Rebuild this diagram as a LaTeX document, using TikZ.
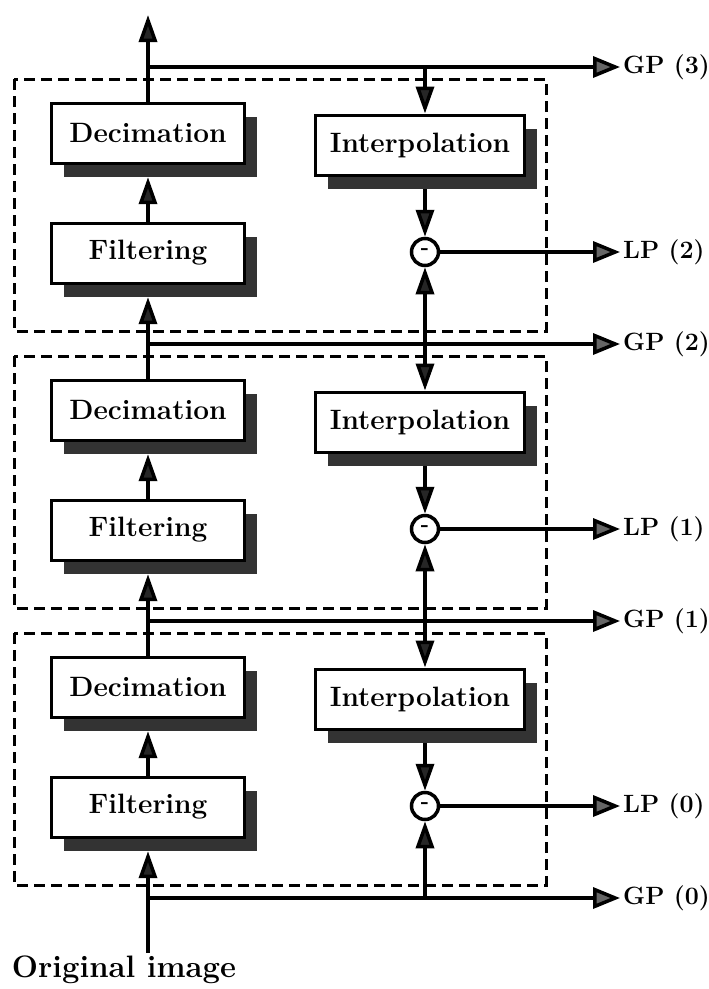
\documentclass[tikz,border=0pt]{standalone}
\usepackage{fontspec}
\usetikzlibrary{arrows.meta,positioning,calc}

\tikzset{
  procbox/.style={draw, line width=3pt, fill=white, minimum height=60pt, inner sep=0pt,
    font=\fontsize{28}{32}\selectfont\bfseries},
  shadowbox/.style={fill=black!80, minimum height=60pt, inner sep=0pt},
  sumnode/.style={circle, draw, line width=3.5pt, fill=white, minimum size=27pt, inner sep=0pt,
    font=\fontsize{22}{22}\selectfont\bfseries},
  outlabel/.style={anchor=west, inner sep=3pt, font=\fontsize{25}{28}\selectfont\bfseries},
  upflow/.style={line width=3.5pt, -{Triangle[length=27pt,width=18pt,fill=black!85]}},
  outflow/.style={line width=3.5pt, -{Triangle[length=27pt,width=21pt,fill=black!60]}},
  stagebox/.style={line width=3pt, dash pattern=on 11pt off 6pt}
}

\begin{document}
\begin{tikzpicture}[x=1pt,y=-1pt]
    \useasboundingbox (0,0) rectangle (709,989);
    % Dashed stage frames
    \draw[stagebox] (14,79) rectangle (546,331);
    \draw[stagebox] (14,356) rectangle (546,608);
    \draw[stagebox] (14,633) rectangle (546,885);
    % Shadows
    \node[shadowbox, minimum width=193pt] (decAsh) at (160,147) {};
    \node[shadowbox, minimum width=193pt] (filtAsh) at (160,267) {};
    \node[shadowbox, minimum width=209pt] (interpAsh) at (432,159) {};
    \node[shadowbox, minimum width=193pt] (decBsh) at (160,424) {};
    \node[shadowbox, minimum width=193pt] (filtBsh) at (160,544) {};
    \node[shadowbox, minimum width=209pt] (interpBsh) at (432,436) {};
    \node[shadowbox, minimum width=193pt] (decCsh) at (160,701) {};
    \node[shadowbox, minimum width=193pt] (filtCsh) at (160,821) {};
    \node[shadowbox, minimum width=209pt] (interpCsh) at (432,713) {};
    % Stage A
    \node[procbox, minimum width=193pt] (decA) at (148,133) {Decimation};
    \node[procbox, minimum width=193pt] (filtA) at (148,253) {Filtering};
    \node[procbox, minimum width=209pt] (interpA) at (420,145) {Interpolation};
    \node[sumnode] (circA) at (425,252) {-};
    % Stage B
    \node[procbox, minimum width=193pt] (decB) at (148,410) {Decimation};
    \node[procbox, minimum width=193pt] (filtB) at (148,530) {Filtering};
    \node[procbox, minimum width=209pt] (interpB) at (420,422) {Interpolation};
    \node[sumnode] (circB) at (425,529) {-};
    % Stage C
    \node[procbox, minimum width=193pt] (decC) at (148,687) {Decimation};
    \node[procbox, minimum width=193pt] (filtC) at (148,807) {Filtering};
    \node[procbox, minimum width=209pt] (interpC) at (420,699) {Interpolation};
    \node[sumnode] (circC) at (425,806) {-};
    % Output labels
    \node[outlabel] (gp3) at (620,67) {GP (3)};
    \node[outlabel] (lp2) at (620,252) {LP (2)};
    \node[outlabel] (gp2) at (620,344) {GP (2)};
    \node[outlabel] (lp1) at (620,529) {LP (1)};
    \node[outlabel] (gp1) at (620,621) {GP (1)};
    \node[outlabel] (lp0) at (620,806) {LP (0)};
    \node[outlabel] (gp0) at (620,898) {GP (0)};
    \node[font=\fontsize{31}{34}\selectfont\bfseries, inner sep=3pt] (orig) at (124,970) {Original image};
    \coordinate (top) at (148,15);
    % Left column
    \draw[upflow] (filtC |- orig.north) -- (filtC |- filtCsh.south);
    \draw[upflow] (filtC.north) -- (decC |- decCsh.south);
    \draw[upflow] (decC.north) -- (filtB |- filtBsh.south);
    \draw[upflow] (filtB.north) -- (decB |- decBsh.south);
    \draw[upflow] (decB.north) -- (filtA |- filtAsh.south);
    \draw[upflow] (filtA.north) -- (decA |- decAsh.south);
    \draw[upflow] (decA.north) -- (top);
    % Gaussian outputs
    \draw[outflow] (decA |- gp3) -- (gp3.west);
    \draw[outflow] (decA |- gp2) -- (gp2.west);
    \draw[outflow] (decA |- gp1) -- (gp1.west);
    \draw[outflow] (decA |- gp0) -- (gp0.west);
    % Right column
    \draw[upflow] (circA |- gp3) -- (circA |- interpA.north);
    \draw[upflow] (circA |- interpAsh.south) -- (circA.north);
    \draw[upflow] (circA |- gp2) -- (circA.south);
    \draw[upflow] (circB |- gp2) -- (circB |- interpB.north);
    \draw[upflow] (circB |- interpBsh.south) -- (circB.north);
    \draw[upflow] (circB |- gp1) -- (circB.south);
    \draw[upflow] (circC |- gp1) -- (circC |- interpC.north);
    \draw[upflow] (circC |- interpCsh.south) -- (circC.north);
    \draw[upflow] (circC |- gp0) -- (circC.south);
    % Laplacian outputs
    \draw[outflow] (circA.east) -- (lp2.west);
    \draw[outflow] (circB.east) -- (lp1.west);
    \draw[outflow] (circC.east) -- (lp0.west);
\end{tikzpicture}
\end{document}
